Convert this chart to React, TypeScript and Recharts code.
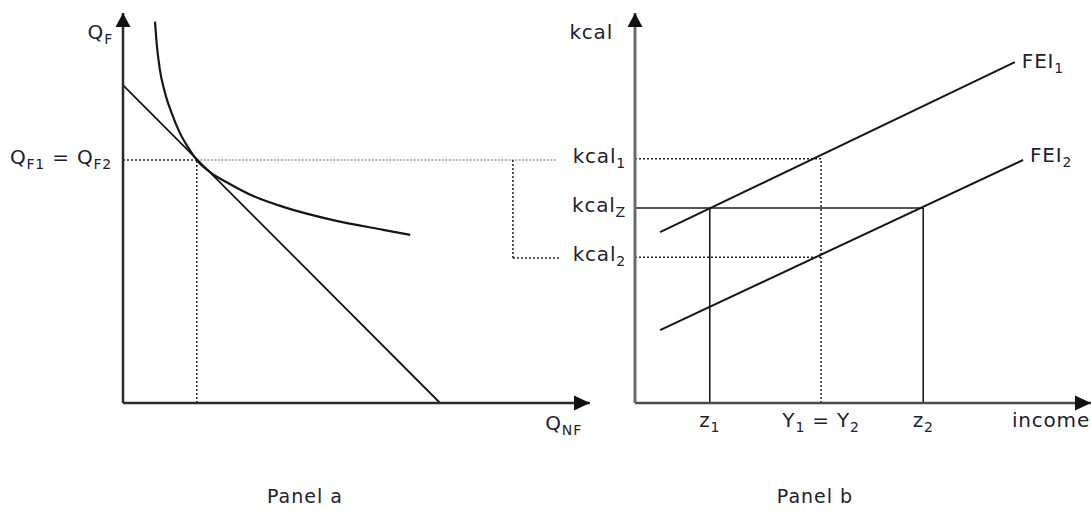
import React from 'react';
import { ComposedChart, Line, XAxis, YAxis, ReferenceLine, ReferenceDot } from 'recharts';

const FONT = '"DejaVu Sans", sans-serif';
const INK = '#1d2230';
const CURVE = '#161616';

// Panel a: quantity of food (QF) vs non-food (QNF)
const budgetLine = [
  { qnf: 0, qf: 8.15 },
  { qnf: 6.79, qf: 0 },
];
const indifferenceCurve = [
  { qnf: 0.685, qf: 9.78 },
  { qnf: 0.72, qf: 9.23 },
  { qnf: 0.79, qf: 8.54 },
  { qnf: 0.9, qf: 7.95 },
  { qnf: 1.04, qf: 7.44 },
  { qnf: 1.22, qf: 6.92 },
  { qnf: 1.39, qf: 6.56 },
  { qnf: 1.58, qf: 6.23 },
  { qnf: 1.9, qf: 5.89 },
  { qnf: 2.22, qf: 5.66 },
  { qnf: 2.8, qf: 5.3 },
  { qnf: 3.43, qf: 5.03 },
  { qnf: 4.5, qf: 4.69 },
  { qnf: 5.57, qf: 4.44 },
  { qnf: 6.15, qf: 4.31 },
];
const qfLevel = 6.23;
const qnfTangent = 1.58;
const guideEnd = 9.29;
const bracketX = 8.35;
const bracketLow = 3.72;
const bracketLowEnd = 9.36;

// Panel b: food energy intake vs income
const fei1 = [
  { income: 0.55, kcal: 4.38 },
  { income: 8.33, kcal: 8.74 },
];
const fei2 = [
  { income: 0.55, kcal: 1.87 },
  { income: 8.51, kcal: 6.23 },
];
const kcal1 = 6.26;
const kcalZ = 5.0;
const kcal2 = 3.74;
const z1 = 1.64;
const y12 = 4.08;
const z2 = 6.32;

type Part = { t: string; sub?: boolean };

const kcalTicks = [kcal1, kcalZ, kcal2];
const kcalTickLabels: Part[][] = [
  [{ t: 'kcal' }, { t: '1', sub: true }],
  [{ t: 'kcal' }, { t: 'Z', sub: true }],
  [{ t: 'kcal' }, { t: '2', sub: true }],
];
const incomeTicks = [z1, y12, z2];
const incomeTickLabels: Part[][] = [
  [{ t: 'z' }, { t: '1', sub: true }],
  [{ t: 'Y' }, { t: '1', sub: true }, { t: ' = Y' }, { t: '2', sub: true }],
  [{ t: 'z' }, { t: '2', sub: true }],
];
const qfTicks = [qfLevel];
const qfTickLabels: Part[][] = [
  [{ t: 'Q' }, { t: 'F1', sub: true }, { t: ' = Q' }, { t: 'F2', sub: true }],
];

const SIZE = 20;
const SUB = 14;
const SHIFT = 5;

function Rich({ x, y, parts, anchor = 'start' }: { x: number; y: number; parts: Part[]; anchor?: 'start' | 'middle' | 'end' }) {
  // y is the visual centre of the main text
  let down = false;
  return (
    <text
      x={x}
      y={y + SIZE * 0.36}
      textAnchor={anchor}
      fill={INK}
      fontFamily={FONT}
      fontSize={SIZE}
      letterSpacing={0.8}
    >
      {parts.map((p, i) => {
        let dy = 0;
        if (p.sub && !down) {
          dy = SHIFT;
          down = true;
        } else if (!p.sub && down) {
          dy = -SHIFT;
          down = false;
        }
        return (
          <tspan key={i} dy={dy} fontSize={p.sub ? SUB : SIZE}>
            {p.t}
          </tspan>
        );
      })}
    </text>
  );
}

const ArrowUp = (props: any) => {
  const { cx, cy } = props;
  return <path d={`M${cx},${cy} L${cx - 7.5},${cy + 14} L${cx + 7.5},${cy + 14} Z`} fill="#111" />;
};
const ArrowRight = (props: any) => {
  const { cx, cy } = props;
  return <path d={`M${cx},${cy} L${cx - 16},${cy - 7.5} L${cx - 16},${cy + 7.5} Z`} fill="#111" />;
};

const titleShape = (parts: Part[], dx: number, dy: number, anchor: 'start' | 'middle' | 'end') => (props: any) => (
  <Rich x={props.cx + dx} y={props.cy + dy} parts={parts} anchor={anchor} />
);

const yTick = (values: number[], labels: Part[][], gap: number) => (props: any) => {
  const i = values.indexOf(props.payload.value);
  return <Rich x={props.x - gap} y={props.y - 3} parts={labels[i] ?? []} anchor="end" />;
};
const xTick = (values: number[], labels: Part[][]) => (props: any) => {
  const i = values.indexOf(props.payload.value);
  return <Rich x={props.x} y={props.y + 15} parts={labels[i] ?? []} anchor="middle" />;
};

const dotted = { stroke: '#222', strokeWidth: 1.5, strokeDasharray: '2 2' };

function PanelA() {
  return (
    <ComposedChart width={600} height={511} margin={{ top: 13, right: 10, bottom: 107, left: 122 }}>
      <XAxis
        type="number"
        dataKey="qnf"
        domain={[0, 10]}
        height={1}
        ticks={[]}
        tick={false}
        tickLine={false}
        axisLine={{ stroke: '#2a2a2a', strokeWidth: 2.5 }}
      />
      <YAxis
        type="number"
        domain={[0, 10]}
        width={1}
        ticks={qfTicks}
        tickSize={0}
        tickLine={false}
        tick={yTick(qfTicks, qfTickLabels, 9)}
        axisLine={{ stroke: '#2a2a2a', strokeWidth: 2.5 }}
      />
      <ReferenceLine segment={[{ x: 0, y: qfLevel }, { x: qnfTangent, y: qfLevel }]} {...dotted} />
      <ReferenceLine
        segment={[{ x: qnfTangent, y: qfLevel }, { x: guideEnd, y: qfLevel }]}
        stroke="#9a9a9a"
        strokeWidth={1.5}
        strokeDasharray="2 1.5"
      />
      <ReferenceLine segment={[{ x: qnfTangent, y: 0 }, { x: qnfTangent, y: qfLevel }]} {...dotted} />
      <ReferenceLine segment={[{ x: bracketX, y: qfLevel }, { x: bracketX, y: bracketLow }]} {...dotted} />
      <ReferenceLine segment={[{ x: bracketX, y: bracketLow }, { x: bracketLowEnd, y: bracketLow }]} {...dotted} />
      <Line data={budgetLine} dataKey="qf" type="linear" stroke={CURVE} strokeWidth={1.8} dot={false} isAnimationActive={false} />
      <Line data={indifferenceCurve} dataKey="qf" type="monotone" stroke={CURVE} strokeWidth={2.2} dot={false} isAnimationActive={false} />
      <ReferenceDot x={0} y={10} shape={ArrowUp} />
      <ReferenceDot x={10} y={0} shape={ArrowRight} />
      <ReferenceDot x={0} y={10} shape={titleShape([{ t: 'Q' }, { t: 'F', sub: true }], -10, 19, 'end')} />
      <ReferenceDot x={10} y={0} shape={titleShape([{ t: 'Q' }, { t: 'NF', sub: true }], -8, 20, 'end')} />
    </ComposedChart>
  );
}

function PanelB() {
  return (
    <ComposedChart width={531} height={511} margin={{ top: 13, right: 0, bottom: 107, left: 74 }}>
      <XAxis
        type="number"
        dataKey="income"
        domain={[0, 10]}
        height={1}
        ticks={incomeTicks}
        tickSize={0}
        tickLine={false}
        tick={xTick(incomeTicks, incomeTickLabels)}
        axisLine={{ stroke: '#4a4a4a', strokeWidth: 2.5 }}
      />
      <YAxis
        type="number"
        domain={[0, 10]}
        width={1}
        ticks={kcalTicks}
        tickSize={0}
        tickLine={false}
        tick={yTick(kcalTicks, kcalTickLabels, 7)}
        axisLine={{ stroke: '#6a6a6a', strokeWidth: 3 }}
      />
      <ReferenceLine segment={[{ x: 0, y: kcal1 }, { x: y12, y: kcal1 }]} {...dotted} />
      <ReferenceLine segment={[{ x: 0, y: kcal2 }, { x: y12, y: kcal2 }]} {...dotted} />
      <ReferenceLine segment={[{ x: y12, y: 0 }, { x: y12, y: kcal1 }]} {...dotted} />
      <ReferenceLine segment={[{ x: 0, y: kcalZ }, { x: z2, y: kcalZ }]} stroke="#555" strokeWidth={2} />
      <ReferenceLine segment={[{ x: z1, y: 0 }, { x: z1, y: kcalZ }]} stroke="#111" strokeWidth={1.5} />
      <ReferenceLine segment={[{ x: z2, y: 0 }, { x: z2, y: kcalZ }]} stroke="#111" strokeWidth={1.5} />
      <Line data={fei1} dataKey="kcal" type="linear" stroke={CURVE} strokeWidth={2} dot={false} isAnimationActive={false} />
      <Line data={fei2} dataKey="kcal" type="linear" stroke={CURVE} strokeWidth={2} dot={false} isAnimationActive={false} />
      <ReferenceDot x={0} y={10} shape={ArrowUp} />
      <ReferenceDot x={10} y={0} shape={ArrowRight} />
      <ReferenceDot x={0} y={10} shape={titleShape([{ t: 'kcal' }], -22, 19, 'end')} />
      <ReferenceDot x={10} y={0} shape={titleShape([{ t: 'income' }], -1, 17, 'end')} />
      <ReferenceDot x={fei1[1].income} y={fei1[1].kcal} shape={titleShape([{ t: 'FEI' }, { t: '1', sub: true }], 7, -1, 'start')} />
      <ReferenceDot x={fei2[1].income} y={fei2[1].kcal} shape={titleShape([{ t: 'FEI' }, { t: '2', sub: true }], 7, -5, 'start')} />
    </ComposedChart>
  );
}

const captionStyle: React.CSSProperties = {
  position: 'absolute',
  top: 485,
  width: 200,
  textAlign: 'center',
  fontFamily: FONT,
  fontSize: 19,
  letterSpacing: 1,
  color: INK,
};

export default function App() {
  return (
    <div style={{ position: 'absolute', left: 0, top: 0, width: 1091, height: 511, background: '#fff', overflow: 'hidden' }}>
      <div style={{ position: 'absolute', left: 0, top: 0 }}>
        <PanelA />
      </div>
      <div style={{ position: 'absolute', left: 560, top: 0 }}>
        <PanelB />
      </div>
      <div style={{ ...captionStyle, left: 205 }}>Panel a</div>
      <div style={{ ...captionStyle, left: 715 }}>Panel b</div>
    </div>
  );
}
